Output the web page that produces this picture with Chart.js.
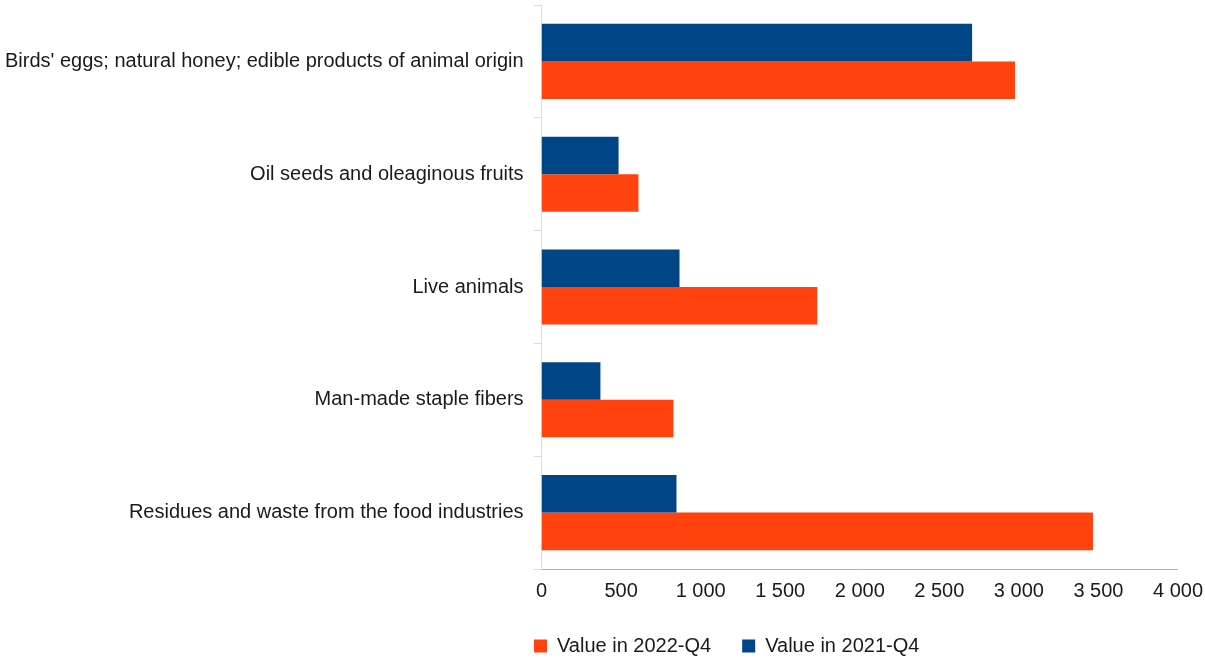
<!DOCTYPE html>
<html>
<head>
<meta charset="utf-8">
<script src="https://cdn.jsdelivr.net/npm/chart.js@4/dist/chart.umd.min.js"></script>
<style>
html,body{margin:0;padding:0;background:#fff;}
#wrap{width:1205px;height:659px;position:relative;}
</style>
</head>
<body>
<div id="wrap"><canvas id="c" width="1205" height="659"></canvas></div>
<script>
const categories = [
  "Birds' eggs; natural honey; edible products of animal origin",
  "Oil seeds and oleaginous fruits",
  "Live animals",
  "Man-made staple fibers",
  "Residues and waste from the food industries"
];
const values2021Q4 = [2706, 484, 867, 370, 848];
const values2022Q4 = [2976, 609, 1733, 829, 3466];
const seriesNames = ["Value in 2021-Q4", "Value in 2022-Q4"];

function fmt(v){
  v = Math.round(v);
  if (v >= 1000) {
    const r = v % 1000;
    return Math.floor(v/1000) + ' ' + String(r).padStart(3,'0');
  }
  return String(v);
}

const LEGEND_PAD = 31;
const LEGEND_BOX_X = 534;
const legendShift = {
  id: 'legendShift',
  afterLayout(chart) {
    const lg = chart.legend;
    if (!lg) return;
    const w = lg.right - lg.left;
    lg.left = LEGEND_BOX_X - LEGEND_PAD;
    lg.right = lg.left + w;
  }
};

const FONT = 'Liberation Sans';
new Chart(document.getElementById('c'), {
  type: 'bar',
  data: {
    labels: categories,
    datasets: [
      { label: seriesNames[0], data: values2021Q4, backgroundColor: '#004586', borderWidth: 0 },
      { label: seriesNames[1], data: values2022Q4, backgroundColor: '#ff420e', borderWidth: 0 }
    ]
  },
  options: {
    indexAxis: 'y',
    responsive: false,
    animation: false,
    layout: { padding: { top: 5, right: 2, left: -5, bottom: -7 } },
    datasets: { bar: { categoryPercentage: 0.666, barPercentage: 1.0 } },
    scales: {
      x: {
        min: 0, max: 4000,
        ticks: { stepSize: 500, callback: v => fmt(v), color: '#1a1a1a', font: { family: FONT, size: 20 }, padding: 2 },
        grid: { display: false },
        border: { display: true, color: '#b3b3b3', width: 1 }
      },
      y: {
        ticks: { color: '#1a1a1a', font: { family: FONT, size: 20 }, padding: 10 },
        grid: { display: true, drawOnChartArea: false, offset: true, tickLength: 8, color: '#dddddd' },
        border: { display: true, color: '#dddddd', width: 1 },
        afterFit(scale) { scale.paddingTop = 0; scale.paddingBottom = 0; }
      }
    },
    plugins: {
      legend: {
        position: 'bottom',
        reverse: true,
        fullSize: false,
        align: 'start',
        labels: { boxWidth: 13, boxHeight: 13, color: '#1a1a1a', font: { family: FONT, size: 20 }, padding: LEGEND_PAD }
      },
      tooltip: { enabled: false }
    }
  },
  plugins: [legendShift]
});
</script>
</body>
</html>
